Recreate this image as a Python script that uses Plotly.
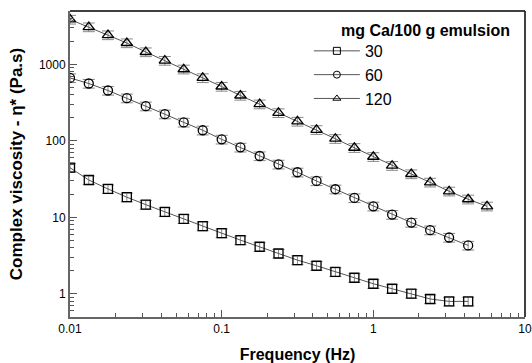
import plotly.graph_objects as go

freq = [0.01, 0.0133, 0.0178, 0.0237, 0.0316, 0.0422, 0.0562, 0.075,
        0.1, 0.133, 0.178, 0.237, 0.316, 0.422, 0.562, 0.75,
        1.0, 1.33, 1.78, 2.37, 3.16, 4.22, 5.62]

ca30 = [44.7, 30.9, 23.6, 18.4, 14.7, 11.8, 9.59, 7.70, 6.24, 5.06, 4.14, 3.38,
        2.77, 2.34, 1.94, 1.63, 1.36, 1.17, 1.01, 0.86, 0.80, 0.80]
ca60 = [667, 564, 457, 363, 285, 224, 175, 138, 105, 82.5, 63.6, 49.5,
        39.0, 30.0, 23.4, 18.0, 14.0, 10.9, 8.58, 6.83, 5.47, 4.31]
ca120 = [3880, 3083, 2426, 1907, 1455, 1125, 866, 667, 515, 393, 303, 233,
         180, 140, 107, 81.5, 62.2, 47.5, 37.0, 28.8, 22.0, 17.3, 14.0]

series_names = ["30", "60", "120"]
series_values = [ca30, ca60, ca120]
symbols = ["square-open", "circle-open", "triangle-up-open"]
sizes = [9, 9, 10]

x_ticks = [0.01, 0.1, 1, 10]
x_ticklabels = ["0.01", "0.1", "1", "10"]
y_ticks = [1, 10, 100, 1000]
y_ticklabels = ["1", "10", "100", "1000"]
minor_mult = [2, 3, 4, 5, 6, 7, 8, 9]

FONT = "Arial, 'Liberation Sans', sans-serif"

fig = go.Figure()
for name, vals, sym, sz in zip(series_names, series_values, symbols, sizes):
    fig.add_trace(go.Scatter(
        x=freq[:len(vals)], y=vals, mode="lines+markers", showlegend=False,
        line=dict(color="#555555", width=1),
        marker=dict(symbol=sym, size=sz, color="black", line=dict(width=1.3, color="black")),
        error_y=dict(type="percent", value=13, color="#888888", thickness=1, width=6),
    ))
    fig.add_trace(go.Scatter(
        x=[None], y=[None], mode="lines+markers", name=name,
        line=dict(color="#555555", width=1),
        marker=dict(symbol=sym, size=7, color="black", line=dict(width=1, color="black")),
    ))

x_minor = [m * d for d in [0.01, 0.1, 1] for m in minor_mult]
y_minor = [m * d for d in [0.1, 1, 10, 100, 1000] for m in minor_mult]

axis_common = dict(
    showline=True, linecolor="#666666", linewidth=2, mirror=False,
    ticks="inside", ticklen=7, tickcolor="#555555", tickwidth=1,
    showgrid=False, zeroline=False, automargin=False,
    tickfont=dict(family=FONT, size=12, color="black"),
)

fig.update_xaxes(
    type="log", range=[-2, 1], tickmode="array", tickvals=x_ticks, ticktext=x_ticklabels,
    minor=dict(tickmode="array", tickvals=x_minor, ticks="inside", ticklen=4,
               tickcolor="#555555", showgrid=False),
    title=dict(text="<b>Frequency (Hz)</b>", font=dict(family=FONT, size=16, color="black"), standoff=15),
    **axis_common,
)
fig.update_yaxes(
    type="log", range=[-0.30103, 3.69897], tickmode="array", tickvals=y_ticks, ticktext=y_ticklabels,
    minor=dict(tickmode="array", tickvals=y_minor, ticks="inside", ticklen=4,
               tickcolor="#555555", showgrid=False),
    title=dict(text="<b>Complex viscosity - η* (Pa.s)</b>", font=dict(family=FONT, size=17, color="black"), standoff=12),
    **axis_common,
)

fig.add_shape(type="line", xref="paper", yref="paper", x0=0, x1=1, y0=1, y1=1,
              line=dict(color="black", width=1.5))
fig.add_shape(type="line", xref="paper", yref="paper", x0=1, x1=1, y0=0, y1=1,
              line=dict(color="black", width=1.5))

fig.add_annotation(text="<b>mg Ca/100 g emulsion</b>", xref="paper", yref="paper",
                   x=0.591, y=0.935, xanchor="left", yanchor="middle", showarrow=False,
                   font=dict(family=FONT, size=16, color="black"))

fig.update_layout(
    width=532, height=363,
    margin=dict(l=70, r=7, t=11, b=46),
    paper_bgcolor="white", plot_bgcolor="white",
    font=dict(family=FONT, size=12, color="black"),
    legend=dict(x=0.525, y=0.925, xanchor="left", yanchor="top",
                bgcolor="rgba(0,0,0,0)", font=dict(family=FONT, size=16, color="black"),
                itemwidth=46, tracegroupgap=0),
)

fig.write_html("out.html", config={"displayModeBar": False},
               post_script="document.body.style.margin='0';")
